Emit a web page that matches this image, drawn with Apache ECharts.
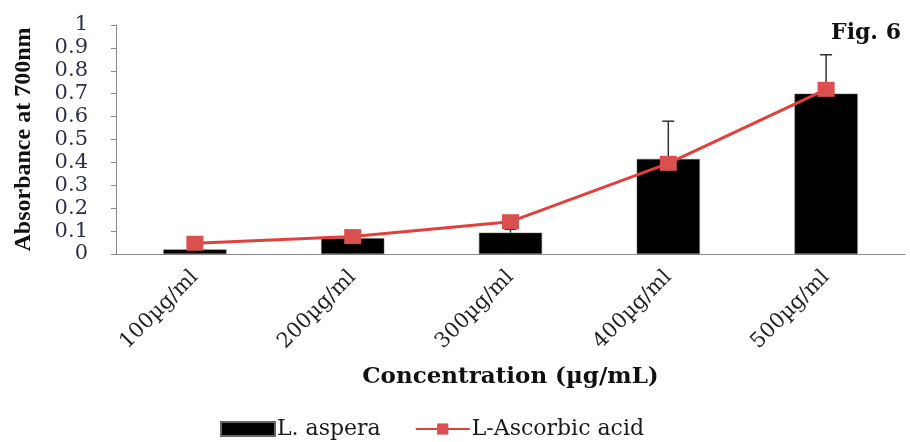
<!DOCTYPE html>
<html>
<head>
<meta charset="utf-8">
<script src="https://cdn.jsdelivr.net/npm/echarts@6/dist/echarts.min.js"></script>
<style>html,body{margin:0;padding:0;background:#fff;}#c{width:910px;height:442px;}</style>
</head>
<body>
<div id="c"></div>
<script>
const categories = ['100µg/ml', '200µg/ml', '300µg/ml', '400µg/ml', '500µg/ml'];
const asperaValues = [0.02, 0.069, 0.093, 0.415, 0.70];
const asperaError = [0.005, 0.008, 0.015, 0.165, 0.17];
const ascorbicValues = [0.047, 0.076, 0.141, 0.396, 0.719];
const yTicks = { min: 0, max: 1, interval: 0.1 };

const chart = echarts.init(document.getElementById('c'));
const serifWide = '"DejaVu Serif", serif';
const serifNarrow = '"Liberation Serif", "Times New Roman", serif';

chart.setOption({
  animation: false,
  backgroundColor: '#fff',
  grid: { left: 116, right: 5, top: 25, bottom: 188, outerBoundsMode: 'none', containLabel: false },
  title: {
    text: 'Fig. 6', right: 4, top: 17,
    textStyle: { fontFamily: serifWide, fontWeight: 'bold', fontSize: 22, color: '#111' }
  },
  legend: {
    left: 215, top: 413, itemGap: 34, itemWidth: 54, itemHeight: 14,
    textStyle: { fontFamily: serifWide, fontSize: 22, color: '#1a1a1a', padding: [0, 0, 0, -3] },
    data: [
      { name: 'L. aspera', icon: 'rect' },
      { name: 'L-Ascorbic acid' }
    ]
  },
  xAxis: {
    type: 'category', data: categories,
    name: 'Concentration (µg/mL)', nameLocation: 'middle', nameGap: 112,
    nameTextStyle: { fontFamily: serifWide, fontWeight: 'bold', fontSize: 23, color: '#111' },
    axisLine: { lineStyle: { color: '#8a8a8a', width: 1 } },
    axisTick: { length: 5, lineStyle: { color: '#8a8a8a' } },
    axisLabel: { rotate: 45, margin: 20, fontFamily: serifWide, fontSize: 21, color: '#222' }
  },
  yAxis: {
    type: 'value', min: yTicks.min, max: yTicks.max, interval: yTicks.interval,
    name: 'Absorbance at 700nm', nameLocation: 'middle', nameGap: 80,
    nameTextStyle: { fontFamily: serifNarrow, fontWeight: 'bold', fontSize: 24, color: '#111' },
    axisLine: { show: true, lineStyle: { color: '#8a8a8a', width: 1 } },
    axisTick: { show: true, length: 5, lineStyle: { color: '#8a8a8a' } },
    splitLine: { show: false },
    axisLabel: { margin: 28, fontFamily: serifWide, fontSize: 21, color: '#2b2f45',
      formatter: v => (Math.round(v * 10) / 10).toString() }
  },
  series: [
    {
      name: 'L. aspera', type: 'bar', data: asperaValues, barWidth: '40%',
      itemStyle: { color: '#000', borderColor: '#666', borderWidth: 0.5 }, z: 2
    },
    {
      name: 'err', type: 'custom', z: 3,
      data: asperaValues.map((v, i) => [i, v, v + asperaError[i]]),
      renderItem: function (params, api) {
        const base = api.coord([api.value(0), api.value(1)]);
        const top = api.coord([api.value(0), api.value(2)]);
        const hw = 6;
        return {
          type: 'group',
          children: [
            { type: 'line', shape: { x1: base[0], y1: base[1], x2: top[0], y2: top[1] }, style: { stroke: '#333', lineWidth: 1.5 } },
            { type: 'line', shape: { x1: top[0] - hw, y1: top[1], x2: top[0] + hw, y2: top[1] }, style: { stroke: '#333', lineWidth: 1.5 } }
          ]
        };
      }
    },
    {
      name: 'L-Ascorbic acid', type: 'line', data: ascorbicValues, z: 4,
      symbol: 'rect', symbolSize: [17, 15],
      lineStyle: { color: '#e2403c', width: 3 },
      itemStyle: { color: '#d9504e' }
    }
  ]
});
</script>
</body>
</html>
